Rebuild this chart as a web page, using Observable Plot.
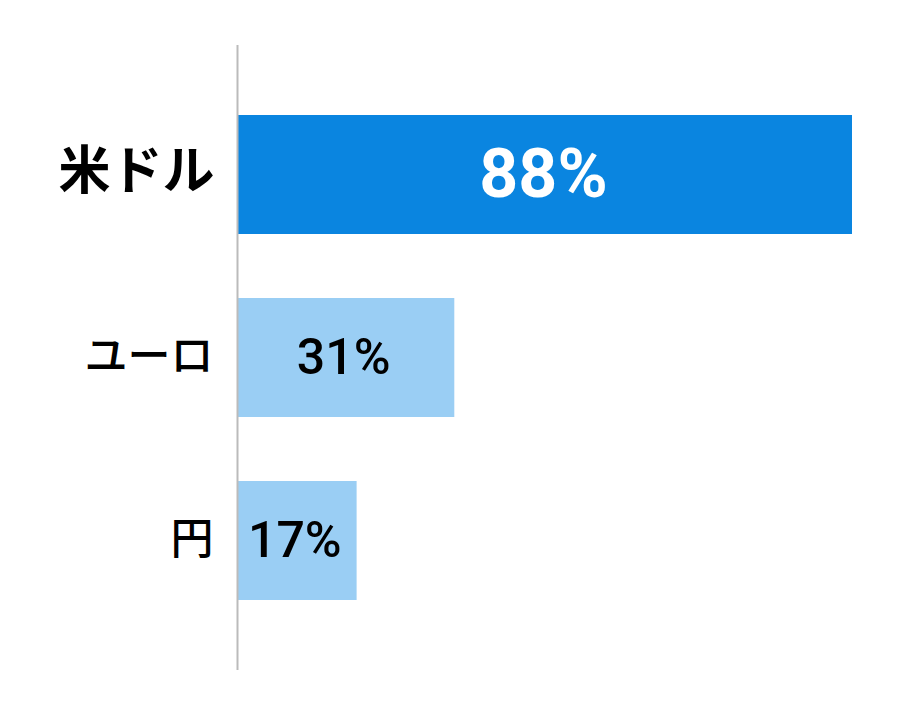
<!DOCTYPE html>
<html>
<head>
<meta charset="utf-8">
<script src="https://cdn.jsdelivr.net/npm/d3@7"></script>
<script src="https://cdn.jsdelivr.net/npm/@observablehq/plot@0.6"></script>
<style>
  html, body { margin: 0; padding: 0; background: #fff; }
  #chart svg { display: block; }
</style>
</head>
<body>
<div id="chart"></div>
<script>
const categories = ["米ドル", "ユーロ", "円"];
const values = [88, 31, 17];
const highlighted = [true, false, false];

const data = categories.map((c, i) => ({ cat: c, value: values[i], hi: highlighted[i] }));
const hiData = data.filter(d => d.hi);
const loData = data.filter(d => !d.hi);

const jp = "'Noto Sans CJK JP', 'Noto Sans', sans-serif";
const num = "Roboto, 'Noto Sans', sans-serif";

const chart = Plot.plot({
  width: 920,
  height: 716,
  marginLeft: 238,
  marginRight: 68,
  marginTop: 45,
  marginBottom: 46,
  style: { background: "#fff", overflow: "visible" },
  x: { domain: [0, 88], axis: null },
  y: { domain: categories, axis: null, paddingInner: 0.352, paddingOuter: 0.377 },
  marks: [
    Plot.barX(data, {
      y: "cat",
      x: "value",
      fill: d => d.hi ? "#0a85e0" : "#9acef4"
    }),
    Plot.ruleX([0], { stroke: "#bbbbbb", strokeWidth: 2, dx: -1 }),
    // category labels
    Plot.text(hiData, {
      y: "cat", x: 0, text: "cat", textAnchor: "end", dx: -24, dy: -3,
      fontSize: 52, fontWeight: 700, fontFamily: jp, fill: "#000"
    }),
    Plot.text(loData, {
      y: "cat", x: 0, text: "cat", textAnchor: "end", dx: -25, dy: -1,
      fontSize: 43, fontWeight: 500, fontFamily: jp, fill: "#000"
    }),
    // value labels
    Plot.text(hiData, {
      y: "cat", x: d => d.value / 2, text: d => d.value + "%",
      fontSize: 68, fontWeight: 700, fontFamily: num, fill: "#fff", dx: -2
    }),
    Plot.text(loData, {
      y: "cat", x: d => d.value / 2, text: d => d.value + "%",
      fontSize: 50, fontWeight: 500, fontFamily: num, fill: "#000", dx: -3
    })
  ]
});
document.getElementById("chart").appendChild(chart);
</script>
</body>
</html>
